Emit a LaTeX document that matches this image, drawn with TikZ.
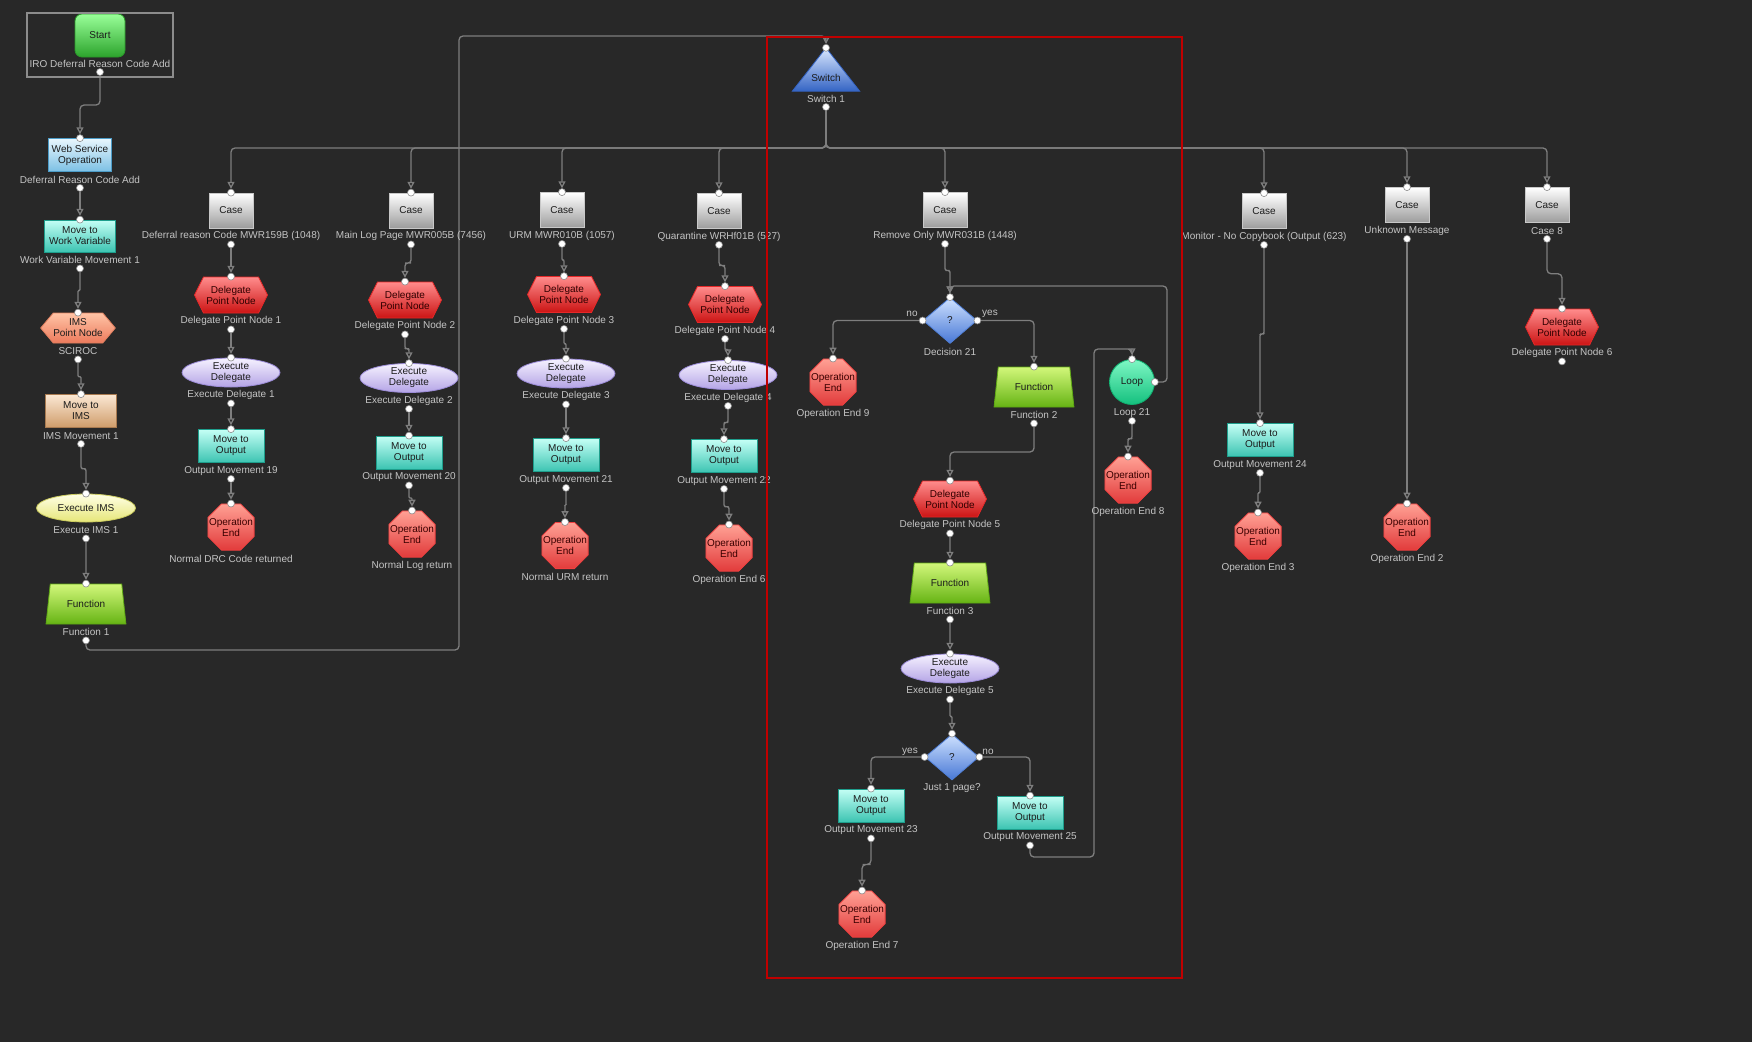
\documentclass[tikz,border=0pt]{standalone}
\usepackage{fontspec}
\setmainfont{Liberation Sans}
\usetikzlibrary{shapes.geometric,shapes.symbols,arrows.meta,calc}

\definecolor{bgc}{HTML}{282828}
\definecolor{wirec}{HTML}{7E7E7E}
\definecolor{lblc}{HTML}{C4C4C4}
\definecolor{ink}{HTML}{1C1C1C}
\definecolor{stopink}{HTML}{3A0000}
\definecolor{dotc}{HTML}{8A8A8A}
\definecolor{framec}{HTML}{8C8C8C}
\definecolor{redc}{HTML}{C00000}

\pgfdeclarelayer{ground}
\pgfdeclarelayer{wires}
\pgfsetlayers{ground,wires,main}

% shape + caption + input port
\newcommand\flowitem[5]{%
  \node[#2] (#1) at (#3) {#4};
  \node[lbl] (#1-l) at ($(#1.south)+(0,8)$) {#5};
  \node[dot] (#1-i) at (#1.north) {};}
% operation end: octagon with its text laid on top
\newcommand\stopnode[3]{%
  \flowitem{#1}{shp,opend}{#2}{}{#3}
  \node[shp, draw=none, text=stopink] (#1-t) at (#1.center) {Operation\\End};}
% output port under the caption
\newcommand\outdot[1]{\node[dot] (#1-o) at ($(#1-l.center)+(0,8)$) {};}
% connectors
\newcommand\wirejog[3][4pt]{\draw[conn, rounded corners=#1] (#2) |- ($(#2)!.5!(#3)$) -| (#3);}
\newcommand\wirestraight[2]{\draw[conn] (#1) -- (#2);}

\begin{document}
\begin{tikzpicture}[x=1pt,y=-1pt,
  shp/.style={draw, line width=0.8pt, inner sep=0pt, align=center, text=ink,
    font=\fontsize{10}{11}\selectfont},
  lbl/.style={text=lblc, inner sep=0pt, font=\fontsize{10}{11}\selectfont},
  dot/.style={circle, fill=white, draw=dotc, line width=0.6pt, minimum size=7pt, inner sep=0pt},
  conn/.style={draw=wirec, line width=1.3pt, rounded corners=4pt,
    -{Triangle[open, length=7pt, width=7pt]}},
  startbox/.style={rounded corners=7pt, minimum width=50pt, minimum height=43pt,
    top color=green!40!white, bottom color={rgb,255:red,44;green,164;blue,44}, draw={rgb,255:red,42;green,154;blue,42}},
  wsbox/.style={minimum width=63pt, minimum height=33pt,
    top color={rgb,255:red,232;green,246;blue,253}, bottom color={rgb,255:red,124;green,192;blue,228}, draw={rgb,255:red,76;green,156;blue,200}},
  movebox/.style={minimum width=66pt, minimum height=33pt,
    top color={rgb,255:red,196;green,255;blue,245}, bottom color={rgb,255:red,60;green,196;blue,178}, draw={rgb,255:red,30;green,158;blue,140}},
  imsbox/.style={minimum width=71pt, minimum height=33pt,
    top color={rgb,255:red,251;green,232;blue,212}, bottom color={rgb,255:red,207;green,156;blue,106}, draw={rgb,255:red,168;green,122;blue,80}},
  imsnode/.style={signal, signal to=east and west, signal pointer angle=100,
    minimum width=74pt, minimum height=30pt,
    top color={rgb,255:red,255;green,196;blue,166}, bottom color={rgb,255:red,236;green,122;blue,92}, draw={rgb,255:red,224;green,128;blue,96}},
  eimsnode/.style={ellipse, minimum width=99pt, minimum height=28pt,
    top color={rgb,255:red,255;green,255;blue,230}, bottom color={rgb,255:red,230;green,230;blue,120}, draw={rgb,255:red,204;green,204;blue,96}},
  funcnode/.style={trapezium, trapezium angle=73, trapezium stretches=true,
    minimum width=80pt, minimum height=40pt,
    top color={rgb,255:red,210;green,247;blue,122}, bottom color={rgb,255:red,102;green,180;blue,20}, draw={rgb,255:red,94;green,168;blue,20}},
  casebox/.style={minimum width=44pt, minimum height=35pt,
    top color=white, bottom color={rgb,255:red,156;green,156;blue,156}, draw={rgb,255:red,200;green,200;blue,200}},
  dpn/.style={signal, signal to=east and west, signal pointer angle=127,
    minimum width=73pt, minimum height=36pt, text={rgb,255:red,48;green,0;blue,0},
    top color={rgb,255:red,255;green,140;blue,140}, bottom color={rgb,255:red,204;green,20;blue,20}, draw={rgb,255:red,230;green,40;blue,40}},
  edel/.style={ellipse, minimum width=98pt, minimum height=29pt,
    top color={rgb,255:red,246;green,242;blue,255}, bottom color={rgb,255:red,180;green,164;blue,230}, draw={rgb,255:red,156;green,140;blue,216}},
  opend/.style={regular polygon, regular polygon sides=8, minimum size=50pt,
    top color={rgb,255:red,255;green,160;blue,148}, bottom color={rgb,255:red,226;green,59;blue,59}, draw={rgb,255:red,240;green,64;blue,64}},
  decnode/.style={diamond, minimum width=54pt, minimum height=46pt,
    top color={rgb,255:red,207;green,226;blue,255}, bottom color={rgb,255:red,72;green,120;blue,214}, draw={rgb,255:red,80;green,128;blue,216}},
  loopnode/.style={circle, minimum size=45pt,
    top color={rgb,255:red,126;green,247;blue,196}, bottom color={rgb,255:red,20;green,192;blue,126}, draw={rgb,255:red,16;green,176;blue,112}},
]
\useasboundingbox (0,0) rectangle (1752,1042);
\begin{pgfonlayer}{ground}
  \fill[bgc] (0,0) rectangle (1752,1042);
\end{pgfonlayer}

% ---------------- left column: request handling ----------------
\node[shp,startbox] (st) at (100,35.5) {Start};
\node[lbl] (st-l) at (100,64) {IRO Deferral Reason Code Add};
\outdot{st}
\draw[framec, line width=1.5pt] (27,13) rectangle (173,77);

\flowitem{ws}{shp,wsbox}{80,155}{Web Service\\Operation}{Deferral Reason Code Add}\outdot{ws}
\flowitem{mwv}{shp,movebox,minimum width=71pt,minimum height=32pt}{80,236}{Move to\\Work Variable}{Work Variable Movement 1}\outdot{mwv}
\flowitem{ims}{shp,imsnode}{78,328}{IMS\\Point Node}{SCIROC}\outdot{ims}
\flowitem{mims}{shp,imsbox}{81,411}{Move to\\IMS}{IMS Movement 1}\outdot{mims}
\flowitem{eims}{shp,eimsnode}{86,508}{Execute IMS}{Execute IMS 1}\outdot{eims}
\flowitem{f1}{shp,funcnode}{86,604}{Function}{Function 1}\outdot{f1}

% ---------------- switch ----------------
\node[minimum width=67pt, minimum height=43pt, inner sep=0pt] (sw) at (826,69.5) {};
\shadedraw[top color={rgb,255:red,218;green,232;blue,255}, bottom color={rgb,255:red,52;green,100;blue,196},
  draw={rgb,255:red,52;green,100;blue,196}, line width=0.8pt] (sw.north) -- (sw.south east) -- (sw.south west) -- cycle;
\node[text=ink, inner sep=0pt, font=\fontsize{10}{11}\selectfont] (sw-t) at (826,78) {Switch};
\node[lbl] (sw-l) at (826,99) {Switch 1};
\node[dot] (sw-i) at (sw.north) {};
\outdot{sw}
\coordinate (bus) at (826,148);

% ---------------- case branches ----------------
\flowitem{c1}{shp,casebox}{231,210.5}{Case}{Deferral reason Code MWR159B (1048)}\outdot{c1}
\flowitem{d1}{shp,dpn}{231,295}{Delegate\\Point Node}{Delegate Point Node 1}\outdot{d1}
\flowitem{e1}{shp,edel}{231,372.5}{Execute\\Delegate}{Execute Delegate 1}\outdot{e1}
\flowitem{m19}{shp,movebox}{231,446}{Move to\\Output}{Output Movement 19}\outdot{m19}
\stopnode{o1}{231,527}{Normal DRC Code returned}

\flowitem{c2}{shp,casebox}{411,210.5}{Case}{Main Log Page MWR005B (7456)}\outdot{c2}
\flowitem{d2}{shp,dpn}{405,300}{Delegate\\Point Node}{Delegate Point Node 2}\outdot{d2}
\flowitem{e2}{shp,edel}{409,378}{Execute\\Delegate}{Execute Delegate 2}\outdot{e2}
\flowitem{m20}{shp,movebox}{409,452.5}{Move to\\Output}{Output Movement 20}\outdot{m20}
\stopnode{o2}{412,534}{Normal Log return}

\flowitem{c3}{shp,casebox}{562,210}{Case}{URM MWR010B (1057)}\outdot{c3}
\flowitem{d3}{shp,dpn}{564,294.5}{Delegate\\Point Node}{Delegate Point Node 3}\outdot{d3}
\flowitem{e3}{shp,edel}{566,373.5}{Execute\\Delegate}{Execute Delegate 3}\outdot{e3}
\flowitem{m21}{shp,movebox}{566,455}{Move to\\Output}{Output Movement 21}\outdot{m21}
\stopnode{o3}{565,545.5}{Normal URM return}

\flowitem{c4}{shp,casebox}{719,211}{Case}{Quarantine WRHf01B (527)}\outdot{c4}
\flowitem{d4}{shp,dpn}{725,304.5}{Delegate\\Point Node}{Delegate Point Node 4}\outdot{d4}
\flowitem{e4}{shp,edel}{728,375}{Execute\\Delegate}{Execute Delegate 4}\outdot{e4}
\flowitem{m22}{shp,movebox}{724,456}{Move to\\Output}{Output Movement 22}\outdot{m22}
\stopnode{o4}{729,548}{Operation End 6}

% remove-only branch with loop
\flowitem{c5}{shp,casebox}{945,210}{Case}{Remove Only MWR031B (1448)}\outdot{c5}
\flowitem{dec}{shp,decnode}{950,320.5}{?}{Decision 21}
\node[dot] (dec-w) at (dec.west) {};
\node[dot] (dec-e) at (dec.east) {};
\node[lbl] (dec-no) at (912,314) {no};
\node[lbl] (dec-yes) at (990,314) {yes};
\stopnode{oe9}{833,382}{Operation End 9}
\flowitem{f2}{shp,funcnode}{1034,387}{Function}{Function 2}\outdot{f2}
\flowitem{d5}{shp,dpn}{950,499}{Delegate\\Point Node}{Delegate Point Node 5}\outdot{d5}
\flowitem{f3}{shp,funcnode}{950,583}{Function}{Function 3}\outdot{f3}
\flowitem{e5}{shp,edel}{950,668.5}{Execute\\Delegate}{Execute Delegate 5}\outdot{e5}
\flowitem{jp}{shp,decnode}{952,757}{?}{Just 1 page?}
\node[dot] (jp-w) at (jp.west) {};
\node[dot] (jp-e) at (jp.east) {};
\node[lbl] (jp-yes) at (910,752) {yes};
\node[lbl] (jp-no) at (988,752) {no};
\flowitem{m23}{shp,movebox}{871,805.5}{Move to\\Output}{Output Movement 23}\outdot{m23}
\flowitem{m25}{shp,movebox}{1030,812.5}{Move to\\Output}{Output Movement 25}\outdot{m25}
\stopnode{oe7}{862,914}{Operation End 7}
\flowitem{lp}{shp,loopnode}{1132,382}{Loop}{Loop 21}\outdot{lp}
\node[dot] (lp-e) at (lp.east) {};
\stopnode{oe8}{1128,480}{Operation End 8}

% remaining cases
\flowitem{c6}{shp,casebox}{1264,211}{Case}{Monitor - No Copybook (Output (623)}\outdot{c6}
\flowitem{m24}{shp,movebox}{1260,440}{Move to\\Output}{Output Movement 24}\outdot{m24}
\stopnode{oe3}{1258,536}{Operation End 3}
\flowitem{c7}{shp,casebox}{1407,205}{Case}{Unknown Message}\outdot{c7}
\stopnode{oe2}{1407,527}{Operation End 2}
\flowitem{c8}{shp,casebox}{1547,205}{Case}{Case 8}\outdot{c8}
\flowitem{d6}{shp,dpn}{1562,327}{Delegate\\Point Node}{Delegate Point Node 6}\outdot{d6}

% ---------------- connectors ----------------
\begin{pgfonlayer}{wires}
\wirejog{st-o}{ws-i}
\wirestraight{ws-o}{mwv-i}
\wirejog[1pt]{mwv-o}{ims-i}
\wirejog[1pt]{ims-o}{mims-i}
\wirejog[2pt]{mims-o}{eims-i}
\wirestraight{eims-o}{f1-i}
\coordinate (fb) at (459,650);
\coordinate (ft) at (459,36);
\draw[conn] (f1-o) |- (fb) -- (ft) -| (sw-i);

\foreach \c in {c1,c2,c3,c4,c5,c6,c7,c8}
  \draw[conn] (sw-o) -- (bus) -| (\c-i);

\wirestraight{c1-o}{d1-i}
\wirestraight{d1-o}{e1-i}
\wirestraight{e1-o}{m19-i}
\wirestraight{m19-o}{o1-i}

\wirejog[3pt]{c2-o}{d2-i}
\wirejog[2pt]{d2-o}{e2-i}
\wirestraight{e2-o}{m20-i}
\wirejog[1pt]{m20-o}{o2-i}

\wirejog[1pt]{c3-o}{d3-i}
\wirejog[1pt]{d3-o}{e3-i}
\wirestraight{e3-o}{m21-i}
\wirejog[0.5pt]{m21-o}{o3-i}

\wirejog[3pt]{c4-o}{d4-i}
\wirejog[1pt]{d4-o}{e4-i}
\wirejog[2pt]{e4-o}{m22-i}
\wirejog[2pt]{m22-o}{o4-i}

\wirejog[2pt]{c5-o}{dec-i}
\draw[conn] (dec-w) -| (oe9-i);
\draw[conn] (dec-e) -| (f2-i);
\wirejog{f2-o}{d5-i}
\wirestraight{d5-o}{f3-i}
\wirestraight{f3-o}{e5-i}
\wirejog[1pt]{e5-o}{jp-i}
\draw[conn] (jp-w) -| (m23-i);
\draw[conn] (jp-e) -| (m25-i);
\wirejog{m23-o}{oe7-i}
\coordinate (lb1) at (1094,857);
\coordinate (lb2) at (1094,349);
\draw[conn] (m25-o) |- (lb1) -- (lb2) -| (lp-i);
\coordinate (lr1) at (1167,382);
\coordinate (lr2) at (1167,286);
\draw[conn] (lp-e) -- (lr1) -- (lr2) -| (dec-i);
\wirejog[2pt]{lp-o}{oe8-i}

\wirejog[2pt]{c6-o}{m24-i}
\wirejog[1pt]{m24-o}{oe3-i}
\wirestraight{c7-o}{oe2-i}
\wirejog{c8-o}{d6-i}
\end{pgfonlayer}

% highlight frame round the remove-only branch
\draw[redc, line width=1.5pt] (767,37) rectangle (1182,978);
\end{tikzpicture}
\end{document}
